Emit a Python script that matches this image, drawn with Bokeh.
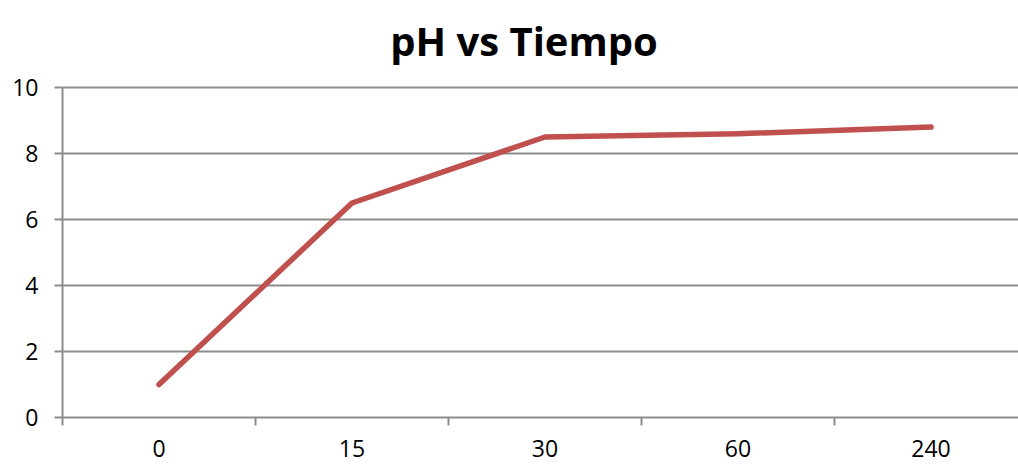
from bokeh.plotting import figure
from bokeh.models import FixedTicker, Range1d, Label
from bokeh.embed import file_html
from bokeh.resources import INLINE

categories = ["0", "15", "30", "60", "240"]
ph_values = [1.0, 6.5, 8.5, 8.6, 8.8]
y_ticks = [0, 2, 4, 6, 8, 10]
title_text = "pH vs Tiempo"

xs = [i + 0.5 for i in range(len(categories))]
GRAY = "#8c8c8c"
PX_PER_UNIT = 33.0

# frame reaches the top of the canvas so the title can sit inside it
p = figure(width=1018, height=464, output_backend="svg", toolbar_location=None,
           x_range=Range1d(0, 956 / 193), y_range=Range1d(0, 10 + 87 / PX_PER_UNIT),
           min_border_left=62, min_border_right=0, min_border_top=0, min_border_bottom=47)
p.outline_line_color = None

title = Label(x=(523.5 - 62) / 193, y=(417 - 40) / PX_PER_UNIT, text=title_text,
              text_align="center", text_baseline="alphabetic",
              text_font="Open Sans", text_font_size="40px", text_font_style="bold",
              text_color="black")
p.add_layout(title)

p.line(xs, ph_values, line_color="#C0504D", line_width=5.5, line_cap="round", line_join="round")

xa = p.xaxis[0]
xa.ticker = FixedTicker(ticks=xs, minor_ticks=list(range(len(categories) + 1)))
xa.major_label_overrides = {x: c for x, c in zip(xs, categories)}
xa.major_tick_out = 0
xa.major_tick_in = 0
xa.minor_tick_out = 8
xa.minor_tick_in = 0
xa.minor_tick_line_color = GRAY
xa.minor_tick_line_width = 2
xa.axis_line_color = GRAY
xa.axis_line_width = 2
xa.major_label_text_font = "Open Sans"
xa.major_label_text_font_size = "23px"
xa.major_label_text_color = "black"
xa.major_label_standoff = 14

ya = p.yaxis[0]
ya.ticker = FixedTicker(ticks=y_ticks)
ya.bounds = (0, 10)
ya.major_tick_out = 8
ya.major_tick_in = 0
ya.major_tick_line_color = GRAY
ya.major_tick_line_width = 2
ya.minor_tick_out = 0
ya.minor_tick_in = 0
ya.axis_line_color = GRAY
ya.axis_line_width = 2
ya.major_label_text_font = "Open Sans"
ya.major_label_text_font_size = "23px"
ya.major_label_text_color = "black"
ya.major_label_standoff = 16

p.xgrid.grid_line_color = None
p.ygrid.grid_line_color = GRAY
p.ygrid.grid_line_width = 2
p.ygrid.ticker = FixedTicker(ticks=y_ticks)

open("out.html", "w").write(file_html(p, INLINE))
